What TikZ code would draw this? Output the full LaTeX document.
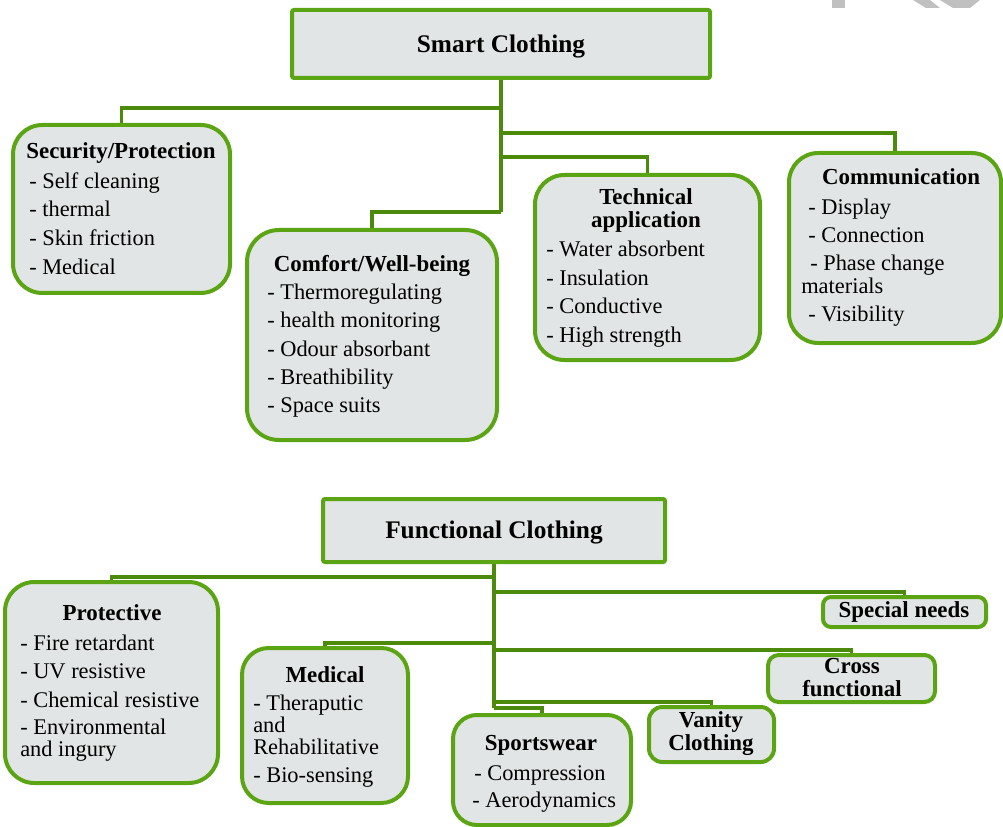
\documentclass[tikz,border=0pt]{standalone}
\usepackage{fontspec}
\setmainfont{Liberation Serif}
\usetikzlibrary{fit}
\definecolor{boxfill}{HTML}{E2E5E5}
\definecolor{boxedge}{HTML}{5BA514}
\definecolor{linkgreen}{HTML}{4C8A0C}
\definecolor{markgray}{HTML}{C0C0C0}

\begin{document}
\begin{tikzpicture}[x=0.75pt,y=-0.75pt,
  box/.style={draw=boxedge, fill=boxfill, line width=3pt, inner sep=0pt},
  headbox/.style={box, rounded corners=1.5pt},
  rbox/.style={box, rounded corners=#1},
  link/.style={draw=linkgreen, line width=2.4pt},
  trunk/.style={draw=linkgreen, line width=3.6pt},
  head/.style={font=\fontsize{19}{22}\selectfont\bfseries, anchor=base, inner sep=0pt},
  ttl/.style={font=\fontsize{17.2}{20}\selectfont\bfseries, anchor=base, inner sep=0pt},
  item/.style={font=\fontsize{16.8}{20}\selectfont, anchor=base west, inner sep=0pt},
]
\useasboundingbox (0,0) rectangle (1003,827);

% grey marks along the top edge
\fill[markgray] (832,0) -- (845,0) -- (845,8) -- (832,8) -- cycle;
\fill[markgray] (913,0) -- (930,0) -- (940,8) -- (926,8) -- cycle;
\fill[markgray] (940,0) -- (980,0) -- (970,8) -- (953,8) -- cycle;

% ---------------- Smart clothing ----------------
\node[headbox, fit={(292,10) (710,78)}] (smart) {};
\node[rbox=22pt, fit={(13,125) (230,293)}] (sec) {};
\node[rbox=24pt, fit={(247,230) (497,440)}] (comf) {};
\node[rbox=22pt, fit={(535,175) (760,360)}] (tech) {};
\node[rbox=22pt, fit={(789,153) (1001,343)}] (comm) {};

\coordinate (jSec)  at (501,108);
\coordinate (jComm) at (501,133);
\coordinate (jTech) at (501,157);
\coordinate (jComf) at (501,212);

\draw[trunk] (smart.south) -- (jComf);
\draw[link] (jSec) -| (sec.north);
\draw[link] (jComm) -| (comm.north);
\draw[link] (jTech) -| (tech.north);
\draw[link] (jComf) -| (comf.north);

\node[head] (smartT) at (501,53) {Smart Clothing};

\node[ttl] (secT) at (121,159) {Security/Protection};
\node[item] (sec1) at (29,189) {- Self cleaning};
\node[item] (sec2) at (29,217) {- thermal};
\node[item] (sec3) at (29,246) {- Skin friction};
\node[item] (sec4) at (29,275) {- Medical};

\node[ttl] (comfT) at (372,272) {Comfort/Well-being};
\node[item] (comf1) at (267,300) {- Thermoregulating};
\node[item] (comf2) at (267,328) {- health monitoring};
\node[item] (comf3) at (267,356) {- Odour absorbant};
\node[item] (comf4) at (267,384) {- Breathibility};
\node[item] (comf5) at (267,412) {- Space suits};

\node[ttl] (techT1) at (646,205) {Technical};
\node[ttl] (techT2) at (646,228) {application};
\node[item] (tech1) at (546,257) {- Water absorbent};
\node[item] (tech2) at (546,286) {- Insulation};
\node[item] (tech3) at (546,314) {- Conductive};
\node[item] (tech4) at (546,342) {- High strength};

\node[ttl] (commT) at (901,185) {Communication};
\node[item] (comm1) at (808,215) {- Display};
\node[item] (comm2) at (808,243) {- Connection};
\node[item] (comm3) at (810,271) {- Phase change};
\node[item] (comm4) at (801,294) {materials};
\node[item] (comm5) at (808,321) {- Visibility};

% ---------------- Functional clothing ----------------
\node[headbox, fit={(323,499) (665,562)}] (func) {};
\node[rbox=22pt, fit={(5,582) (218,783)}] (prot) {};
\node[rbox=20pt, fit={(242,648) (408,803)}] (med) {};
\node[rbox=18pt, fit={(453,715) (631,825)}] (sport) {};
\node[rbox=10pt, fit={(649,707) (774,762)}] (van) {};
\node[rbox=8pt, fit={(768,655) (935,702)}] (cross) {};
\node[rbox=6pt, fit={(823,597) (986,627)}] (spec) {};

\coordinate (kProt)  at (494,577);
\coordinate (kSpec)  at (494,592);
\coordinate (kMed)   at (494,643);
\coordinate (kCross) at (494,650);
\coordinate (kVan)   at (494,702);
\coordinate (kSport) at (494,708);

\draw[trunk] (func.south) -- (kSport);
\draw[link] (kProt) -| (prot.north);
\draw[link] (kSpec) -| (spec.north);
\draw[link] (kMed) -| (med.north);
\draw[link] (kCross) -| (cross.north);
\draw[link] (kVan) -| (van.north);
\draw[link] (kSport) -| (sport.north);

\node[head] (funcT) at (494,538) {Functional Clothing};

\node[ttl] (protT) at (112,620) {Protective};
\node[item] (prot1) at (20,650) {- Fire retardant};
\node[item] (prot2) at (20,678) {- UV resistive};
\node[item] (prot3) at (20,707) {- Chemical resistive};
\node[item] (prot4) at (20,734) {- Environmental};
\node[item] (prot5) at (20,756) {and ingury};

\node[ttl] (medT) at (325,682) {Medical};
\node[item] (med1) at (253,710) {- Theraputic};
\node[item] (med2) at (253,732) {and};
\node[item] (med3) at (253,754) {Rehabilitative};
\node[item] (med4) at (253,782) {- Bio-sensing};

\node[ttl] (sportT) at (541,750) {Sportswear};
\node[item] (sport1) at (474,780) {- Compression};
\node[item] (sport2) at (472,807) {- Aerodynamics};

\node[ttl] (vanT1) at (711,727) {Vanity};
\node[ttl] (vanT2) at (711,750) {Clothing};

\node[ttl] (crossT1) at (852,673) {Cross};
\node[ttl] (crossT2) at (852,696) {functional};

\node[ttl] (specT) at (904,617) {Special needs};
\end{tikzpicture}
\end{document}
